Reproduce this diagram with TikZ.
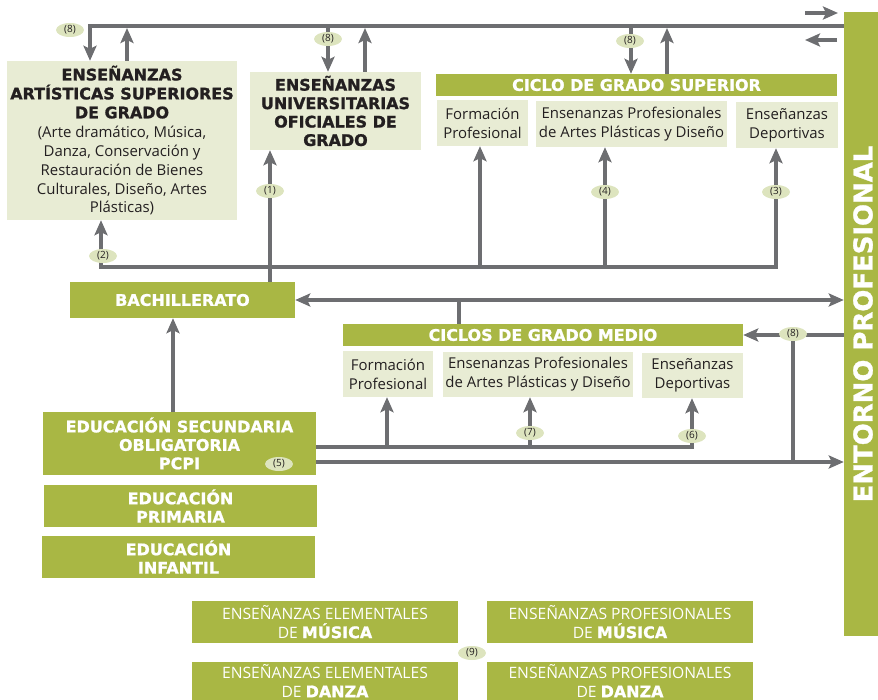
\documentclass[tikz,border=0pt]{standalone}
\usepackage{graphicx}
\usepackage{fontspec}
\setmainfont{Open Sans}
\newfontfamily\heavyfont{DejaVu Sans}[BoldFeatures={FakeBold=1.2}]
\usetikzlibrary{arrows.meta,shapes.geometric}
\definecolor{dgreen}{RGB}{169,183,68}
\definecolor{lgreen}{RGB}{232,236,212}
\definecolor{labfill}{RGB}{221,228,190}
\definecolor{lgray}{RGB}{109,110,113}
\definecolor{ink}{RGB}{35,31,32}
\newcommand\hv{\heavyfont\bfseries\fontsize{16}{18.5}\selectfont}
\tikzset{
  dbox/.style={fill=dgreen, text=white, align=center, inner sep=0pt, font=\hv},
  lbox/.style={fill=lgreen, text=ink, align=center, inner sep=0pt, font=\fontsize{15}{19}\selectfont},
  ebox/.style={fill=dgreen, text=white, align=center, inner sep=0pt, font=\fontsize{15.7}{18.5}\selectfont,
     minimum width=266bp, minimum height=42bp},
  lab/.style={ellipse, fill=labfill, text=ink, inner sep=0pt, minimum width=28bp, minimum height=14bp,
     font=\fontsize{10}{11}\selectfont},
  conn/.style={draw=lgray, line width=4.5bp},
  arr/.style={conn, -{Stealth[length=15bp,width=13bp,inset=3bp]}},
  dblarr/.style={conn, {Stealth[length=15bp,width=13bp,inset=3bp]}-{Stealth[length=15bp,width=13bp,inset=3bp]}}
}
\begin{document}
\begin{tikzpicture}[x=1bp,y=-1bp]
\useasboundingbox (0,0) rectangle (878,700);
\clip (0,0) rectangle (878,700);

% ---------- boxes ----------
\node[lbox, minimum width=230bp, minimum height=159bp] (art) at (122,140.5)
  {\hv ENSEÑANZAS\\\hv ARTÍSTICAS SUPERIORES\\\hv DE GRADO\\(Arte dramático, Música,\\Danza, Conservación y\\Restauración de Bienes\\Culturales, Diseño, Artes\\Plásticas)};
\node[lbox, minimum width=171bp, minimum height=78bp, font=\hv] (univ) at (335.5,111)
  {ENSEÑANZAS\\UNIVERSITARIAS\\OFICIALES DE\\GRADO};

\node[dbox, minimum width=401bp, minimum height=22bp] (csup) at (636.5,85) {CICLO DE GRADO SUPERIOR};
\node[lbox, minimum width=91bp, minimum height=46bp] (fp1) at (482.5,123) {Formación\\Profesional};
\node[lbox, minimum width=191bp, minimum height=46bp] (ep1) at (631.5,124) {Ensenanzas Profesionales\\de Artes Plásticas y Diseño};
\node[lbox, minimum width=102bp, minimum height=46bp] (ed1) at (787,125) {Enseñanzas\\Deportivas};

\node[dbox, minimum width=225bp, minimum height=36bp] (bach) at (182.5,300) {BACHILLERATO};

\node[dbox, minimum width=400bp, minimum height=22bp] (cmed) at (543,335) {CICLOS DE GRADO MEDIO};
\node[lbox, minimum width=90bp, minimum height=46bp] (fp2) at (388,374) {Formación\\Profesional};
\node[lbox, minimum width=190bp, minimum height=45bp] (ep2) at (538,374.5) {Ensenanzas Profesionales\\de Artes Plásticas y Diseño};
\node[lbox, minimum width=101bp, minimum height=45bp] (ed2) at (692.5,375.5) {Enseñanzas\\Deportivas};

\node[dbox, minimum width=273bp, minimum height=63bp] (eso) at (179.5,443.5) {EDUCACIÓN SECUNDARIA\\OBLIGATORIA\\PCPI};
\node[dbox, minimum width=273bp, minimum height=42bp] (prim) at (180.5,506) {EDUCACIÓN\\PRIMARIA};
\node[dbox, minimum width=273bp, minimum height=42bp] (inf) at (178.5,557) {EDUCACIÓN\\INFANTIL};

\node[ebox] (emus) at (325,622) {ENSEÑANZAS ELEMENTALES\\DE {\hv MÚSICA}};
\node[ebox, minimum height=38bp] (edan) at (325,681) {ENSEÑANZAS ELEMENTALES\\DE {\hv DANZA}};
\node[ebox] (pmus) at (620,622) {ENSEÑANZAS PROFESIONALES\\DE {\hv MÚSICA}};
\node[ebox, minimum height=38bp] (pdan) at (620,681) {ENSEÑANZAS PROFESIONALES\\DE {\hv DANZA}};

\node[dbox, minimum width=38bp, minimum height=624bp] (entorno) at (863,324)
  {\rotatebox{90}{\heavyfont\bfseries\fontsize{26}{28}\selectfont ENTORNO PROFESIONAL}};

% ---------- connectors ----------
\coordinate (t1) at (90,26);
\coordinate (t2) at (127,28);
\coordinate (t3) at (328,26);
\coordinate (t4) at (365,28);
\coordinate (t5) at (631,26);
\coordinate (t6) at (667,28);
\draw[arr] (t1 -| entorno.west) -- (t1) -- (t1 |- art.north);
\draw[arr] (t2 |- art.north) -- (t2);
\draw[arr] (t3) -- (t3 |- univ.north);
\draw[arr] (t4 |- univ.north) -- (t4);
\draw[arr] (t5) -- (t5 |- csup.north);
\draw[arr] (t6 |- csup.north) -- (t6);

\coordinate (e1) at (805,13);
\coordinate (e2) at (838,13);
\coordinate (e3) at (837,40);
\coordinate (e4) at (805,40);
\draw[arr] (e1) -- (e2);
\draw[arr] (e3) -- (e4);

\coordinate (m1) at (101,267);
\coordinate (m2) at (776,267);
\coordinate (m3) at (480,267);
\coordinate (m4) at (605,267);
\coordinate (m5) at (270,267);
\draw[dblarr] (m1 |- art.south) -- (m1) -- (m2) -- (m2 |- ed1.south);
\draw[arr] (m3) -- (m3 |- fp1.south);
\draw[arr] (m4) -- (m4 |- ep1.south);
\draw[arr] (m5 |- bach.north) -- (m5 |- univ.south);

\draw[dblarr] (bach.east) -- (bach.east -| entorno.west);
\coordinate (s1) at (459,300);
\draw[conn] (s1) -- (s1 |- cmed.north);

\draw[arr] (cmed.east -| entorno.west) -- (cmed.east);
\coordinate (k1) at (793,335);
\coordinate (b1) at (793,462);
\draw[conn] (k1) -- (b1);
\draw[arr] (eso.east |- b1) -- (b1 -| entorno.west);

\coordinate (q1) at (173,400);
\draw[arr] (q1 |- eso.north) -- (q1 |- bach.south);

\coordinate (u2) at (692,447);
\coordinate (u3) at (387,447);
\coordinate (u4) at (530,447);
\draw[arr] (eso.east |- u2) -- (u2) -- (u2 |- ed2.south);
\draw[arr] (u3) -- (u3 |- fp2.south);
\draw[arr] (u4) -- (u4 |- ep2.south);

% ---------- labels ----------
\node[lab] (l8a) at (70,30) {(8)};
\node[lab] (l8b) at (328,39) {(8)};
\node[lab] (l8c) at (630,41) {(8)};
\node[lab] (l1) at (270,191) {(1)};
\node[lab] (l2) at (103,256) {(2)};
\node[lab] (l4) at (605,192) {(4)};
\node[lab] (l3) at (776,192) {(3)};
\node[lab] (l8d) at (793,334) {(8)};
\node[lab] (l7) at (530,433) {(7)};
\node[lab] (l6) at (692,436) {(6)};
\node[lab] (l5) at (279,464) {(5)};
\node[lab] (l9) at (472,653) {(9)};
\end{tikzpicture}
\end{document}
